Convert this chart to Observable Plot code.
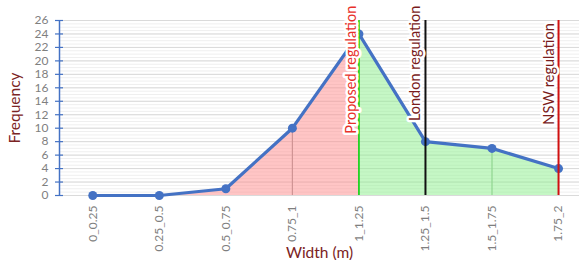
<!DOCTYPE html>
<html>
<head>
<meta charset="utf-8">
<script src="https://cdn.jsdelivr.net/npm/d3@7"></script>
<script src="https://cdn.jsdelivr.net/npm/@observablehq/plot@0.6"></script>
<style>
  html, body { margin: 0; padding: 0; background: #fff; }
  #chart svg { display: block; }
</style>
</head>
<body>
<div id="chart"></div>
<script>
const categories = ["0_0.25", "0.25_0.5", "0.5_0.75", "0.75_1", "1_1.25", "1.25_1.5", "1.5_1.75", "1.75_2"];
const frequency = [0, 0, 1, 10, 24, 8, 7, 4];
const yTicks = [0, 2, 4, 6, 8, 10, 12, 14, 16, 18, 20, 22, 24, 26];
const regulationNames = ["Proposed regulation", "London regulation", "NSW regulation"];
const regulationCategory = ["1_1.25", "1.25_1.5", "1.75_2"];
const dropLineCategories = ["0.75_1", "1.5_1.75"];

const rows = categories.map((c, i) => ({i, cat: c, v: frequency[i]}));
const splitIndex = categories.indexOf(regulationCategory[0]);
const redRows = rows.slice(0, splitIndex + 1);
const greenRows = rows.slice(splitIndex);
const drops = rows.filter(r => dropLineCategories.includes(r.cat));
const regs = regulationNames.map((n, k) => ({name: n, i: categories.indexOf(regulationCategory[k])}));

const W = 579, H = 260, ML = 59, MR = 0, MT = 20, MB = 65;
const xMin = -0.5, xMax = 7.315;
const pxX = (xMax - xMin) / (W - ML - MR);
const minor = d3.range(0, 26.01, 0.5);

const font = "Lato, 'Open Sans', sans-serif";

const chart = Plot.plot({
  width: W,
  height: H,
  marginLeft: ML,
  marginRight: MR,
  marginTop: MT,
  marginBottom: MB,
  style: {fontFamily: font, background: "#fff"},
  x: {domain: [xMin, xMax], axis: null},
  y: {domain: [0, 26], axis: null},
  marks: [
    // minor and major grid
    Plot.ruleY(minor, {x1: xMin, x2: xMax, stroke: "#efefef", strokeWidth: 1}),
    Plot.ruleY(yTicks, {x1: xMin, x2: xMax, stroke: "#dadada", strokeWidth: 1}),
    // areas
    Plot.areaY(redRows, {x: "i", y: "v", fill: "#ff8c8c", fillOpacity: 0.5}),
    Plot.areaY(greenRows, {x: "i", y: "v", fill: "#8cf08c", fillOpacity: 0.5}),
    // drop lines
    Plot.ruleX(drops.slice(0, 1), {x: "i", y1: 0, y2: "v", stroke: "#d09494", strokeWidth: 1.2}),
    Plot.ruleX(drops.slice(1), {x: "i", y1: 0, y2: "v", stroke: "#8fd68f", strokeWidth: 1.2}),
    // y axis line and crossing ticks
    Plot.ruleX([xMin], {y1: 0, y2: 26, stroke: "#4472c4", strokeWidth: 1.5}),
    Plot.ruleY(yTicks, {x1: xMin - 4 * pxX, x2: xMin + 4 * pxX, stroke: "#4472c4", strokeWidth: 1.2}),
    Plot.axisY(yTicks, {x: xMin, anchor: "left", tickSize: 0, tickPadding: 11, fontSize: 12, fill: "#7f7f7f", label: null}),
    Plot.axisX(rows.map(r => r.i), {y: 0, anchor: "bottom", tickSize: 0, tickPadding: 10, tickRotate: -90,
      tickFormat: i => categories[i], fontSize: 12, fill: "#7f7f7f", label: null}),
    // series line + dots
    Plot.line(rows, {x: "i", y: "v", stroke: "#4472c4", strokeWidth: 3.2}),
    Plot.dot(rows, {x: "i", y: "v", r: 4.5, fill: "#4472c4"}),
    // regulation lines
    Plot.ruleX(regs.slice(0, 1), {x: "i", y1: 0, y2: 26, stroke: "#22d022", strokeWidth: 1.8}),
    Plot.ruleX(regs.slice(1, 2), {x: "i", y1: 0, y2: 26, stroke: "#111111", strokeWidth: 2}),
    Plot.ruleX(regs.slice(2, 3), {x: "i", y1: 0, y2: 26, stroke: "#d01010", strokeWidth: 2}),
    // regulation labels
    Plot.text(regs.slice(0, 1), {x: "i", y: 28.2, text: "name", rotate: -90, textAnchor: "end", dx: -8,
      fontSize: 14.5, fill: "#e8302a", stroke: "#fff", strokeWidth: 5}),
    Plot.text(regs.slice(1, 2), {x: "i", y: 28.2, text: "name", rotate: -90, textAnchor: "end", dx: -10,
      fontSize: 14.5, fill: "#7a1c1c", stroke: "#fff", strokeWidth: 5}),
    Plot.text(regs.slice(2, 3), {x: "i", y: 25.6, text: "name", rotate: -90, textAnchor: "end", dx: -9,
      fontSize: 14.5, fill: "#7a1c1c", stroke: "#fff", strokeWidth: 5}),
    // axis titles
    Plot.text(["Frequency"], {frameAnchor: "left", dx: -44, rotate: -90, textAnchor: "middle", lineAnchor: "middle",
      fontSize: 15.5, fill: "#7b2323"}),
    Plot.text(["Width (m)"], {frameAnchor: "bottom", dy: 58, textAnchor: "middle", lineAnchor: "middle",
      fontSize: 15.5, fill: "#7b2323"})
  ]
});

document.getElementById("chart").append(chart);
</script>
</body>
</html>
